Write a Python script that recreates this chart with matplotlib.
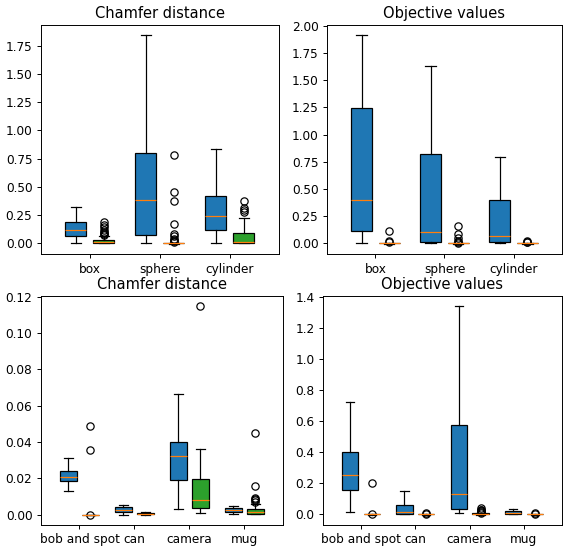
import numpy as np
import matplotlib
matplotlib.use("Agg")
import matplotlib.pyplot as plt

# shapes (top row)
shape_names = ["box", "sphere", "cylinder"]

# chamfer distance, shapes: [whislo, q1, med, q3, whishi]
shape_cd_a = [[0.0, 0.058, 0.118, 0.19, 0.32],
              [0.0, 0.071, 0.381, 0.80, 1.844],
              [0.0, 0.112, 0.243, 0.419, 0.833]]
shape_cd_a_fl = [[], [], []]
shape_cd_b = [[0.0, 0.0, 0.01, 0.03, 0.058],
              [-0.005, -0.004, -0.002, 0.0, 0.004],
              [0.0, 0.0, 0.01, 0.089, 0.222]]
shape_cd_b_fl = [[0.19, 0.16, 0.14, 0.12, 0.10, 0.09, 0.08, 0.07],
                 [0.783, 0.449, 0.369, 0.171, 0.08, 0.06, 0.04, 0.03, 0.02, 0.01],
                 [0.369, 0.31, 0.29, 0.28]]

# objective values, shapes
shape_obj_a = [[0.0, 0.113, 0.396, 1.242, 1.912],
               [0.0, 0.015, 0.101, 0.819, 1.634],
               [0.0, 0.01, 0.067, 0.395, 0.791]]
shape_obj_a_fl = [[], [], []]
shape_obj_b = [[-0.003, -0.002, 0.0, 0.001, 0.003],
               [-0.003, -0.002, 0.0, 0.001, 0.003],
               [-0.003, -0.002, 0.0, 0.001, 0.003]]
shape_obj_b_fl = [[0.116, 0.02, 0.01],
                  [0.155, 0.085, 0.05, 0.02, 0.01, 0.005],
                  [0.02, 0.015, 0.01]]

# objects (bottom row)
object_names = ["bob and spot", "can", "camera", "mug"]

obj_cd_a = [[0.013, 0.0184, 0.0207, 0.024, 0.0314],
            [0.0, 0.0012, 0.0025, 0.004, 0.0055],
            [0.0029, 0.0191, 0.032, 0.0402, 0.0665],
            [0.0005, 0.0012, 0.0023, 0.0038, 0.0048]]
obj_cd_a_fl = [[], [], [], []]
obj_cd_b = [[0.0, 0.0, 0.0, 0.0, 0.0],
            [0.0, 0.0002, 0.0005, 0.0009, 0.0012],
            [0.0007, 0.0035, 0.0081, 0.0196, 0.036],
            [0.0002, 0.0005, 0.0013, 0.0028, 0.0058]]
obj_cd_b_fl = [[0.0487, 0.0354, 0.0],
               [],
               [0.1147],
               [0.0448, 0.016, 0.009, 0.0085, 0.0078, 0.007]]

obj_obj_a = [[0.013, 0.156, 0.251, 0.403, 0.724],
             [0.0, 0.003, 0.012, 0.06, 0.15],
             [0.005, 0.032, 0.132, 0.576, 1.34],
             [0.0, 0.002, 0.008, 0.02, 0.035]]
obj_obj_a_fl = [[], [], [], []]
obj_obj_b = [[-0.002, -0.001, 0.0, 0.001, 0.002],
             [-0.002, -0.001, 0.0, 0.001, 0.002],
             [-0.002, 0.0, 0.002, 0.005, 0.008],
             [-0.002, -0.001, 0.0, 0.001, 0.002]]
obj_obj_b_fl = [[0.199, 0.0],
                [0.005, 0.0],
                [0.04, 0.03, 0.025, 0.02, 0.015, 0.01],
                [0.005, 0.0]]


def make_stats(rows, fliers):
    stats = []
    for r, f in zip(rows, fliers):
        stats.append(dict(whislo=r[0], q1=r[1], med=r[2], q3=r[3], whishi=r[4], fliers=f))
    return stats


def draw(ax, names, a, a_fl, b, b_fl, title):
    pos = np.arange(1, len(names) + 1)
    ax.bxp(make_stats(a, a_fl), positions=pos - 0.2, widths=0.3,
           patch_artist=True, manage_ticks=False,
           boxprops=dict(facecolor="#1f77b4"))
    ax.bxp(make_stats(b, b_fl), positions=pos + 0.2, widths=0.3,
           patch_artist=True, manage_ticks=False,
           boxprops=dict(facecolor="#2ca02c"))
    ax.set_xticks(pos)
    ax.set_xticklabels(names)
    ax.set_xlim(0.3, len(names) + 0.7)
    ax.set_title(title)


# reference looks like a default figure saved at a lower dpi
DPI = 87.5
fig = plt.figure(figsize=(563 / DPI, 546 / DPI), dpi=DPI)
ax1 = fig.add_axes([0.0728, 0.5348, 0.4227, 0.4194])
ax2 = fig.add_axes([0.5808, 0.5348, 0.4174, 0.4194])
ax3 = fig.add_axes([0.0728, 0.0385, 0.4298, 0.4194])
ax4 = fig.add_axes([0.5737, 0.0385, 0.4245, 0.4194])

draw(ax1, shape_names, shape_cd_a, shape_cd_a_fl, shape_cd_b, shape_cd_b_fl, "Chamfer distance")
draw(ax2, shape_names, shape_obj_a, shape_obj_a_fl, shape_obj_b, shape_obj_b_fl, "Objective values")
draw(ax3, object_names, obj_cd_a, obj_cd_a_fl, obj_cd_b, obj_cd_b_fl, "Chamfer distance")
draw(ax4, object_names, obj_obj_a, obj_obj_a_fl, obj_obj_b, obj_obj_b_fl, "Objective values")

ax1.set_yticks(np.arange(0, 1.76, 0.25))
ax2.set_yticks(np.arange(0, 2.01, 0.25))
ax3.set_yticks(np.arange(0, 0.121, 0.02))
ax4.set_yticks(np.arange(0, 1.41, 0.2))

fig.savefig("out.png", dpi=DPI)
